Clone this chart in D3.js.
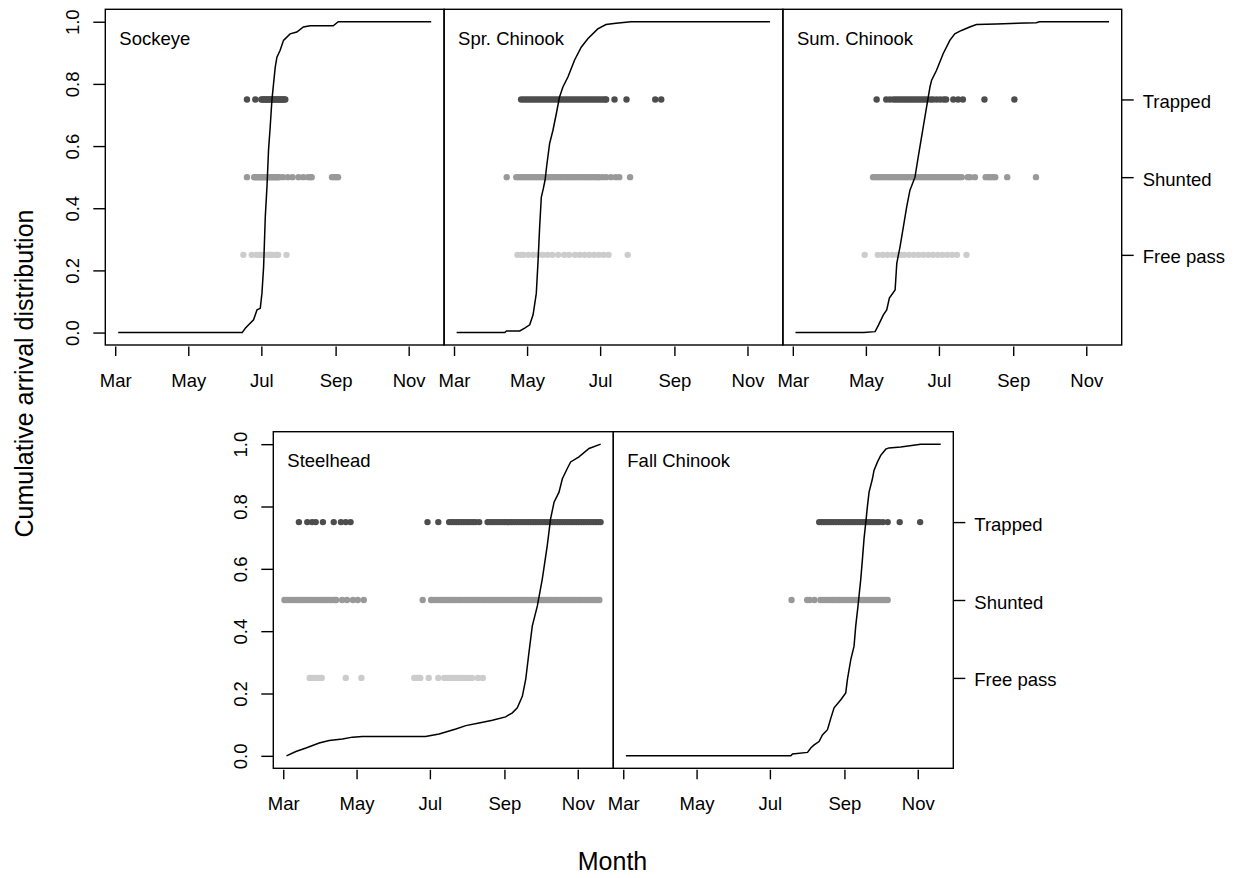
<!DOCTYPE html>
<html><head><meta charset="utf-8">
<script src="https://cdn.jsdelivr.net/npm/d3@7"></script>
<style>
body{margin:0;background:#fff}
svg{display:block}
text{font-family:"Liberation Sans",Arial,sans-serif;fill:#000}
</style>
</head><body>
<svg id="c" width="1235" height="878"></svg>
<script>
// ---------------- data (x = day of year, 2013) ----------------
const species = ["Sockeye","Spr. Chinook","Sum. Chinook","Steelhead","Fall Chinook"];
const monthTicks = [60,121,182,244,305];
const monthLabels = ["Mar","May","Jul","Sep","Nov"];
const yTicks = [0,0.2,0.4,0.6,0.8,1.0];
const groupLabels = ["Trapped","Shunted","Free pass"];
const groupLevels = [0.75,0.5,0.25];
const groupColors = ["#4d4d4d","#999999","#cccccc"];

const sockeyeCurve = [[62.5,0],[166,0],[168.6,0.014],[171.4,0.025],[175.5,0.041],[178.4,0.073],[181.1,0.078],[182.5,0.126],[183.9,0.212],[185.3,0.373],[186.7,0.469],[188,0.587],[189.4,0.662],[190.8,0.747],[192.2,0.801],[193.6,0.854],[195,0.886],[197.7,0.908],[200.5,0.94],[206,0.961],[211.6,0.967],[217.1,0.983],[222.7,0.987],[242,0.987],[246.2,1],[323.8,1]];
const sockeyeTrapped = [170,177,182,183,184,185,186,187,188,189,190,191,192,193,194,195,196,197,198,199,200,201,202];
const sockeyeShunted = [170,176,177,178,179,180,181,182,183,184,185,186,187,188,189,190,191,192,193,194,195,196,197,200,204,208,213,217,221,223,224,241,243,245,246];
const sockeyeFree = [167,174,178,180,181,183,184,187,188,189,190,191,194,195,196,203];

const sprCurve = [[62.2,0],[102.4,0],[103.8,0.005],[114.9,0.005],[119,0.014],[123.2,0.025],[126,0.057],[128.7,0.126],[130.2,0.233],[131.5,0.34],[132.9,0.436],[134.5,0.462],[136,0.49],[137.5,0.54],[139.8,0.608],[142.6,0.651],[145.4,0.704],[148.1,0.758],[150.9,0.79],[155.1,0.822],[160.6,0.876],[166.2,0.918],[171.7,0.945],[180,0.977],[186.9,0.991],[195.2,0.995],[207.7,1],[323.8,1]];
const sprTrapped = [116,118,120,122,124,126,128,130,132,134,136,138,140,142,144,146,148,150,152,154,156,158,160,162,164,166,168,170,172,174,176,178,180,182,184,186,187,194,204,228,233];
const sprShunted = [104,112,114,116,118,120,122,124,126,128,130,132,134,136,138,140,142,144,146,148,150,152,154,156,158,160,162,164,166,168,170,172,174,176,178,180,181,184,187,191,195,198,207];
const sprFree = [113,116,118,122,126,130,134,138,142,147,152,156,161,165,169,173,177,181,185,189,205];

const sumCurve = [[62.2,0],[119,0],[128.7,0.003],[131.5,0.024],[135.6,0.057],[138.4,0.073],[140.6,0.111],[145.4,0.137],[146.8,0.223],[149.5,0.276],[152.3,0.34],[155.1,0.405],[157.8,0.458],[162,0.5],[164.7,0.565],[168.9,0.662],[171.7,0.726],[174.5,0.79],[175.9,0.812],[180,0.844],[185.5,0.897],[191.1,0.94],[195.2,0.961],[200.8,0.972],[207.7,0.983],[213.3,0.991],[229.9,0.993],[263.2,0.997],[266,1],[324,1]];
const sumTrapped = [130,138,141,144,146,148,150,152,154,156,158,160,162,164,166,168,170,172,175,177,180,183,186,188,194,198,202,220,245];
const sumShunted = [127,129,131,133,135,137,139,141,143,145,147,149,151,153,155,157,159,161,163,165,167,169,171,173,175,177,179,181,183,185,187,189,191,193,195,197,199,201,206,208,212,221,223,225,227,229,239,263];
const sumFree = [120,131,135,139,143,147,150,153,157,161,165,169,173,177,181,185,189,193,197,205];

const steelCurve = [[62.7,0],[70.5,0.014],[78.9,0.025],[89.9,0.041],[98.2,0.049],[109.3,0.054],[117.6,0.06],[125.9,0.062],[178.4,0.062],[189.7,0.07],[203.6,0.086],[211.9,0.097],[222.9,0.105],[234,0.114],[245,0.125],[250.6,0.138],[254.7,0.154],[258.9,0.191],[261.7,0.245],[264.4,0.331],[267.2,0.417],[271.4,0.481],[275.5,0.567],[279.6,0.674],[282.4,0.76],[285.3,0.814],[289.4,0.846],[292.2,0.889],[296.3,0.922],[299.1,0.943],[306,0.959],[314.4,0.986],[324.1,1]];
const steelTrapped = [73,80,84,87,93,102,108,112,116,180,189,198,200,202,204,206,208,210,212,214,216,218,220,223,230,232,234,236,238,240,242,244,246,248,250,252,254,256,258,260,262,264,266,268,270,272,274,276,278,280,282,284,286,288,290,292,294,296,298,300,302,304,306,308,310,312,314,316,318,320,322,324];
const steelShunted = [61,63,65,67,69,71,73,75,77,79,81,83,85,87,89,91,93,95,97,99,101,103,104,109,113,118,122,127,176,183,185,187,189,191,193,195,197,199,201,203,205,207,209,211,213,215,217,219,221,223,225,227,229,231,233,235,237,239,241,243,245,247,249,251,253,255,257,259,261,263,265,267,269,271,273,275,277,279,281,283,285,287,289,291,293,295,297,299,301,303,305,307,309,311,313,315,317,319,321,323];
const steelFree = [82,84,86,88,90,92,112,125,169,171,173,174,181,189,194,196,198,200,202,204,206,208,210,212,214,217,222,226];

const fallCurve = [[62.2,0],[199.4,0],[200.8,0.006],[213.3,0.011],[216,0.025],[218.8,0.035],[222.9,0.046],[225.7,0.067],[229.9,0.084],[232.7,0.121],[235.4,0.154],[241,0.18],[245.1,0.202],[246.5,0.245],[249.3,0.309],[252,0.352],[253.4,0.416],[255.3,0.481],[257.6,0.567],[259,0.632],[260.3,0.696],[261.8,0.75],[263.2,0.803],[264.5,0.846],[267.3,0.889],[268.6,0.916],[271.5,0.943],[274.2,0.964],[278.4,0.984],[281.1,0.988],[290.8,0.991],[307.5,1],[324.1,1]];
const fallTrapped = [223,225,227,229,231,233,235,237,239,241,243,245,247,249,251,253,255,257,259,261,263,265,267,269,271,273,276,280,290,307];
const fallShunted = [200,213,215,219,224,226,228,230,232,234,236,238,240,242,244,246,248,250,252,254,256,258,260,262,264,266,268,270,272,274,276,278,280];
const fallFree = [];

// ---------------- assemble ----------------
const panels = [
  {name:species[0], curve:sockeyeCurve, groups:[sockeyeTrapped,sockeyeShunted,sockeyeFree]},
  {name:species[1], curve:sprCurve, groups:[sprTrapped,sprShunted,sprFree]},
  {name:species[2], curve:sumCurve, groups:[sumTrapped,sumShunted,sumFree]},
  {name:species[3], curve:steelCurve, groups:[steelTrapped,steelShunted,steelFree]},
  {name:species[4], curve:fallCurve, groups:[fallTrapped,fallShunted,fallFree]}
];

// layout
const rows = [
  {top:9.3, bottom:345, lefts:[105.3,444.1,782.9], w:338.8, idx:[0,1,2]},
  {top:431.7, bottom:768.3, lefts:[273.3,613.3], w:340, idx:[3,4]}
];
const FS = 18.5;

const svg = d3.select("#c");
const allX = panels.flatMap(p => p.curve.map(d => d[0]));
const ext = d3.extent(allX);
const pad = (ext[1]-ext[0])*0.04;
const xDomain = [ext[0]-pad, ext[1]+pad];

rows.forEach(row => {
  const y = d3.scaleLinear().domain([-0.04,1.04]).range([row.bottom,row.top]);
  row.idx.forEach((pi,k) => {
    const p = panels[pi];
    const left = row.lefts[k], right = left + row.w;
    const x = d3.scaleLinear().domain(xDomain).range([left,right]);
    const g = svg.append("g");

    p.groups.forEach((arr,gi) => {
      g.append("g").selectAll("circle").data(arr).join("circle")
        .attr("cx", d => x(d)).attr("cy", y(groupLevels[gi]))
        .attr("r", 3.2).attr("fill", groupColors[gi]);
    });

    g.append("path").datum(p.curve)
      .attr("d", d3.line().x(d => x(d[0])).y(d => y(d[1])))
      .attr("fill","none").attr("stroke","#000").attr("stroke-width",1.5);

    g.append("rect").attr("x",left).attr("y",row.top)
      .attr("width",row.w).attr("height",row.bottom-row.top)
      .attr("fill","none").attr("stroke","#000").attr("stroke-width",1.4);

    g.append("text").attr("x",left+14).attr("y",row.top+35.7)
      .attr("font-size",FS).text(p.name);

    const xa = g.append("g").attr("transform",`translate(0,${row.bottom+1.5})`)
      .call(d3.axisBottom(x).tickValues(monthTicks)
        .tickFormat((d,i) => monthLabels[i]).tickSize(9.5).tickSizeOuter(0));
    xa.select(".domain").remove();
    xa.selectAll("line").attr("stroke","#000").attr("stroke-width",1.4);
    xa.selectAll("text").attr("y",40).attr("dy",0)
      .attr("font-size",FS).attr("font-family",null).attr("fill","#000");

    if (k === 0) {
      const ya = g.append("g").attr("transform",`translate(${left},0)`)
        .call(d3.axisLeft(y).tickValues(yTicks).tickFormat(d3.format(".1f")).tickSize(12).tickSizeOuter(0));
      ya.select(".domain").remove();
      ya.selectAll("line").attr("stroke","#000").attr("stroke-width",1.4);
      ya.selectAll("text").attr("x",0).attr("dy",0)
        .attr("transform","translate(-26,0) rotate(-90)")
        .attr("text-anchor","middle")
        .attr("font-size",FS).attr("font-family",null).attr("fill","#000");
    }
    if (k === row.idx.length-1) {
      const ra = g.append("g").attr("transform",`translate(${right},0)`)
        .call(d3.axisRight(y).tickValues(groupLevels).tickFormat((d,i) => groupLabels[i]).tickSize(12).tickSizeOuter(0));
      ra.select(".domain").remove();
      ra.selectAll("line").attr("stroke","#000").attr("stroke-width",1.4);
      ra.selectAll("text").attr("x",21).attr("y",8).attr("dy",0)
        .attr("font-size",FS).attr("font-family",null).attr("fill","#000");
    }
  });
});

svg.append("text").attr("x",612.5).attr("y",870).attr("text-anchor","middle")
  .attr("font-size",25).text("Month");
svg.append("text").attr("transform","translate(33,373.5) rotate(-90)")
  .attr("text-anchor","middle").attr("font-size",25).text("Cumulative arrival distribution");
</script>
</body></html>
